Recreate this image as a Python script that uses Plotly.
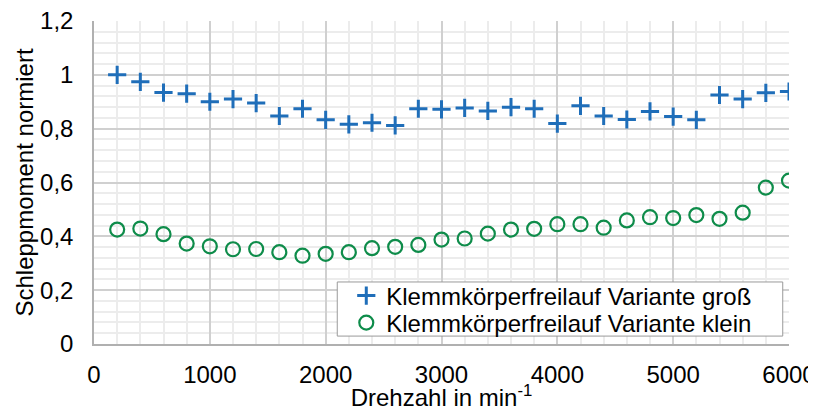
import plotly.graph_objects as go

drehzahl = [200, 400, 600, 800, 1000, 1200, 1400, 1600, 1800, 2000,
            2200, 2400, 2600, 2800, 3000, 3200, 3400, 3600, 3800, 4000,
            4200, 4400, 4600, 4800, 5000, 5200, 5400, 5600, 5800, 6000]
gross = [1.000, 0.974, 0.934, 0.930, 0.900, 0.910, 0.895, 0.847, 0.874, 0.833,
         0.816, 0.822, 0.812, 0.874, 0.872, 0.877, 0.866, 0.880, 0.874, 0.819,
         0.885, 0.847, 0.834, 0.864, 0.845, 0.833, 0.925, 0.910, 0.933, 0.938]
klein = [0.425, 0.429, 0.408, 0.373, 0.363, 0.352, 0.353, 0.341, 0.328, 0.335,
         0.341, 0.356, 0.361, 0.368, 0.388, 0.392, 0.410, 0.425, 0.428, 0.445,
         0.445, 0.432, 0.459, 0.471, 0.468, 0.479, 0.465, 0.488, 0.581, 0.607]

name_gross = "Klemmkörperfreilauf Variante groß"
name_klein = "Klemmkörperfreilauf Variante klein"

blue = "#1F6EB9"
green = "#0E8C4A"
font = "Liberation Sans"
fs = 24
black = "#000000"

fig = go.Figure()
fig.add_trace(go.Scatter(x=drehzahl, y=gross, mode="markers", name=name_gross,
                         legend="legend",
                         marker=dict(symbol="cross-thin", size=13,
                                     line=dict(color=blue, width=3), color=blue)))
fig.add_trace(go.Scatter(x=drehzahl, y=klein, mode="markers", name=name_klein,
                         legend="legend2",
                         marker=dict(symbol="circle-open", size=14,
                                     line=dict(color=green, width=2.2), color=green)))

leg_common = dict(xanchor="left", yanchor="middle",
                  bgcolor="rgba(0,0,0,0)", borderwidth=0,
                  font=dict(size=fs, family=font, color=black), itemwidth=30)

# page has an 8px body margin: figure is drawn 8px right/down
fig.update_layout(
    width=808, height=403,
    margin=dict(l=86, r=27, t=13, b=67, autoexpand=False),
    paper_bgcolor="white", plot_bgcolor="white",
    font=dict(family=font, size=fs, color=black),
    showlegend=True,
    legend=dict(x=0.363, y=0.1486, **leg_common),
    legend2=dict(x=0.363, y=0.065, **leg_common),
    shapes=[dict(type="rect", xref="paper", yref="paper",
                 x0=0.35, x1=0.991, y0=0.0245, y1=0.192,
                 fillcolor="white", line=dict(color="#9a9a9a", width=1),
                 layer="above")],
    xaxis=dict(range=[0, 6000], dtick=1000, tick0=0, automargin=False,
               ticklabeloverflow="allow",
               showgrid=True, gridcolor="#d0d0d0", gridwidth=1.5,
               minor=dict(dtick=200, showgrid=True, gridcolor="#ececec", gridwidth=1.5),
               showline=True, linecolor="#b0b0b0", linewidth=1.5,
               zeroline=False, ticks="", ticklabelstandoff=8,
               tickfont=dict(size=fs, family=font, color=black),
               title=dict(text="Drehzahl in min<sup>-1</sup>", standoff=9,
                          font=dict(size=fs, family=font, color=black))),
    yaxis=dict(range=[0, 1.2], dtick=0.2, tick0=0, tickformat=".1~f",
               automargin=False, ticklabeloverflow="allow",
               showgrid=True, gridcolor="#d0d0d0", gridwidth=1.5,
               minor=dict(dtick=0.04, showgrid=True, gridcolor="#ececec", gridwidth=1.5),
               showline=True, linecolor="#b0b0b0", linewidth=1.5,
               zeroline=False, ticks="", ticklabelstandoff=14,
               tickfont=dict(size=fs, family=font, color=black),
               title=dict(text="Schleppmoment normiert", standoff=0,
                          font=dict(size=fs, family=font, color=black))),
    separators=", ",
)

fig.write_html("out.html")
